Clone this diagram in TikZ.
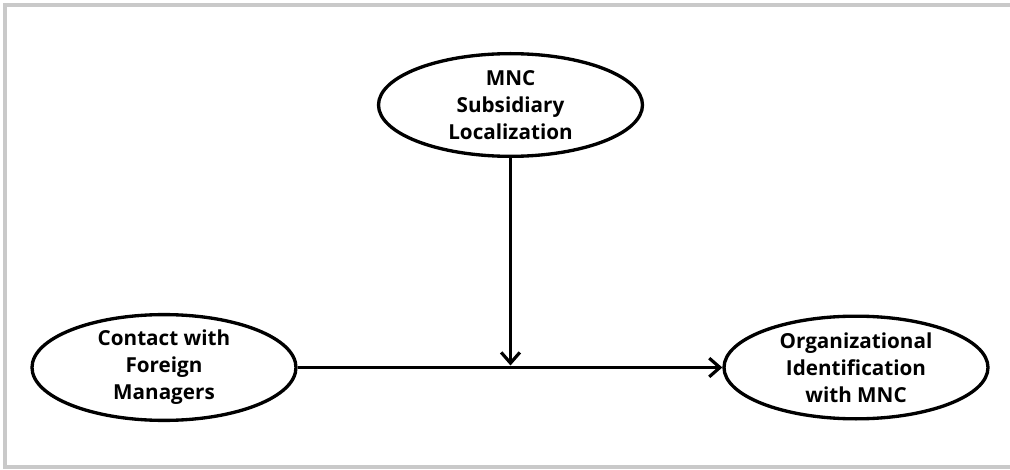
\documentclass[tikz,border=0pt]{standalone}
\usepackage{fontspec}
\setmainfont{Open Sans}
\usetikzlibrary{shapes.geometric,arrows.meta}

\tikzset{
  construct/.style={ellipse, draw, line width=2.5pt, inner sep=0pt,
    minimum width=198pt, minimum height=77pt, align=center,
    font=\fontsize{15.5}{20.3}\selectfont\bfseries},
  path arrow/.style={line width=2.8pt,
    -{Straight Barb[length=8pt,width=14pt,line width=2.4pt]}}
}

\begin{document}
\begin{tikzpicture}[x=0.75pt, y=-0.75pt]

      \useasboundingbox (0,0) rectangle (1010,470);

      % grey frame, cut off at the right edge
      \draw[black!21, line width=3pt] (5.3,5.3) rectangle (1030,467);

      % The moderator on top.
      \node[construct] (mnc) at (510.5,105) {MNC\\Subsidiary\\Localization};

      % Predictor and outcome.
      \node[construct] (contact) at (164,367.5) {Contact with\\Foreign\\Managers};
      \node[construct] (orgid) at (856,367.5) {Organizational\\Identification\\with MNC};

      % main path
      \draw[path arrow] (contact) -- (orgid);

      % moderating path onto the main one
      \coordinate (hit) at (mnc.south |- contact.east);
      \draw[path arrow, shorten >=1.5pt] (mnc) -- (hit);
\end{tikzpicture}
\end{document}
